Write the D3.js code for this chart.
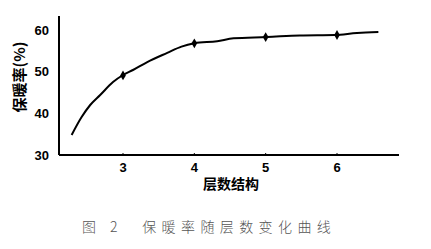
<!DOCTYPE html>
<html><head><meta charset="utf-8">
<script src="https://cdn.jsdelivr.net/npm/d3@7"></script>
<style>body{margin:0;background:#fff}svg{display:block}</style>
</head><body>
<svg id="c" width="431" height="249"></svg>
<script>
const curveX = [2.28, 2.42, 2.54, 2.68, 2.86, 3.0, 3.14, 3.34, 3.62, 3.82, 4.0, 4.32, 4.55, 5.02, 5.48, 5.97, 6.28, 6.58];
const curveY = [34.8, 39.1, 42.0, 44.4, 47.5, 49.2, 50.4, 52.3, 54.5, 56.0, 56.8, 57.3, 58.0, 58.3, 58.7, 58.8, 59.3, 59.5];
const markerX = [3, 4, 5, 6];
const markerY = [49.1, 56.8, 58.3, 58.8];
const xTicks = [3, 4, 5, 6];
const yTicks = [30, 40, 50, 60];
const xTitle = "层数结构";
const yTitle = "保暖率(%)";
const caption = "图 2　保暖率随层数变化曲线";

const svg = d3.select("#c");
const x = d3.scaleLinear().domain([3, 6]).range([123, 337]);
const y = d3.scaleLinear().domain([30, 60]).range([155, 30]);
const x0 = x.invert(59), x1 = x.invert(399), yTop = y.invert(16);

svg.append("line").attr("x1", x(x0)).attr("x2", x(x0)).attr("y1", y(yTop)).attr("y2", y(30))
  .attr("stroke", "#000").attr("stroke-width", 2);
svg.append("line").attr("x1", x(x0)).attr("x2", x(x1)).attr("y1", y(30)).attr("y2", y(30))
  .attr("stroke", "#000").attr("stroke-width", 2);

const tickFont = "Liberation Sans, Arial, sans-serif";
svg.append("g").selectAll("text").data(yTicks).join("text")
  .attr("x", 49).attr("y", d => y(d)).attr("dy", "0.36em").attr("text-anchor", "end")
  .attr("font-family", tickFont).attr("font-weight", "bold").attr("font-size", 13)
  .text(d => d);
svg.append("g").selectAll("text").data(xTicks).join("text")
  .attr("x", d => x(d)).attr("y", 172).attr("text-anchor", "middle")
  .attr("font-family", tickFont).attr("font-weight", "bold").attr("font-size", 13)
  .text(d => d);
svg.append("g").selectAll("line").data(xTicks).join("line")
  .attr("x1", d => x(d)).attr("x2", d => x(d)).attr("y1", y(30)).attr("y2", y(30) - 2)
  .attr("stroke", "#000").attr("stroke-width", 1);

svg.append("text").attr("x", 231).attr("y", 189).attr("text-anchor", "middle")
  .attr("font-family", "Noto Sans CJK SC").attr("font-weight", "bold").attr("font-size", 14)
  .text(xTitle);
svg.append("text").attr("transform", "translate(25,77) rotate(-90)").attr("text-anchor", "middle")
  .attr("font-family", "Noto Sans CJK SC").attr("font-weight", "bold").attr("font-size", 15)
  .text(yTitle);
svg.append("text").attr("x", 82).attr("y", 232).attr("text-anchor", "start")
  .attr("font-family", "Noto Sans CJK SC").attr("font-weight", "300").attr("font-size", 14)
  .attr("letter-spacing", "5.4px").attr("fill", "#555")
  .text(caption);

const pts = curveX.map((d, i) => [d, curveY[i]]);
svg.append("path").datum(pts)
  .attr("d", d3.line().x(d => x(d[0])).y(d => y(d[1])).curve(d3.curveMonotoneX))
  .attr("fill", "none").attr("stroke", "#000").attr("stroke-width", 2);

svg.append("g").selectAll("path").data(markerX).join("path")
  .attr("transform", (d, i) => `translate(${x(d)},${y(markerY[i])})`)
  .attr("d", d3.symbol().type(d3.symbolDiamond).size(28))
  .attr("fill", "#000");
</script>
</body></html>
